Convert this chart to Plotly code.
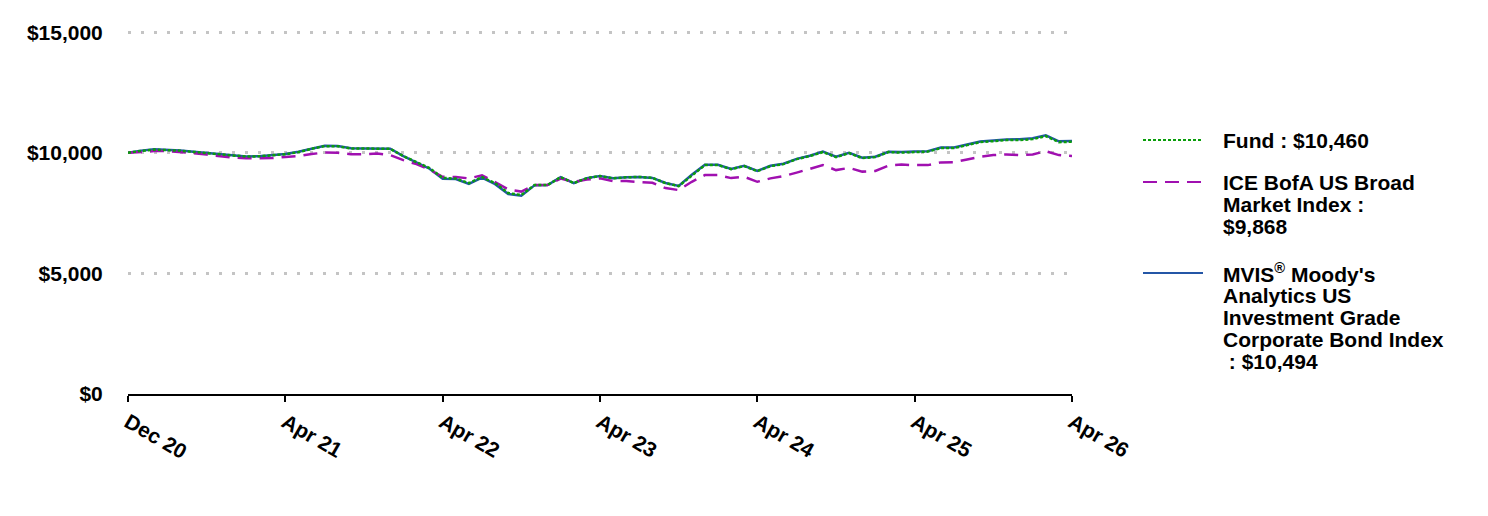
import plotly.graph_objects as go

# ---- data ----
tick_labels = ["Dec 20", "Apr 21", "Apr 22", "Apr 23", "Apr 24", "Apr 25", "Apr 26"]
tick_positions = [0, 12, 24, 36, 48, 60, 72]

fund = [10000, 10082, 10132, 10120, 10087, 10037, 9987, 9921, 9875, 9842, 9854, 9900, 9941,
        10028, 10169, 10277, 10269, 10182, 10174, 10169, 10165, 9863, 9614, 9365, 8960,
        8930, 8744, 8992, 8744, 8329, 8247, 8661, 8661, 8992, 8744, 8951, 9034, 8940, 8985,
        9000, 8960, 8744, 8620, 9075, 9490, 9490, 9324, 9448, 9241, 9448, 9531, 9738, 9863,
        10028, 9821, 9987, 9780, 9821, 10030, 10010, 10040, 10050, 10194, 10194, 10319,
        10443, 10484, 10526, 10526, 10567, 10692, 10443, 10460]

ice = [10000, 10041, 10070, 10070, 10041, 9987, 9925, 9850, 9800, 9772, 9767, 9780, 9830,
       9863, 9946, 10016, 10004, 9937, 9937, 9970, 9904, 9697, 9531, 9303, 9005, 9001,
       8939, 9063, 8785, 8483, 8392, 8661, 8661, 8930, 8798, 8889, 8939, 8827, 8827, 8806,
       8756, 8537, 8454, 8798, 9075, 9075, 8951, 9005, 8798, 8939, 9034, 9179, 9324, 9490,
       9283, 9374, 9220, 9250, 9469, 9511, 9490, 9490, 9602, 9614, 9726, 9834, 9904, 9933,
       9904, 9933, 10070, 9904, 9868]

mvis = [10000, 10090, 10145, 10130, 10095, 10040, 9990, 9925, 9880, 9845, 9860, 9905, 9950,
        10040, 10180, 10290, 10280, 10190, 10180, 10175, 10170, 9860, 9600, 9340, 8920,
        8910, 8710, 8970, 8700, 8290, 8220, 8650, 8660, 8990, 8740, 8950, 9040, 8950, 8990,
        9000, 8960, 8750, 8630, 9090, 9500, 9500, 9330, 9460, 9250, 9460, 9545, 9750, 9880,
        10050, 9840, 10000, 9800, 9840, 10045, 10030, 10055, 10065, 10220, 10225, 10345,
        10470, 10510, 10555, 10560, 10600, 10725, 10475, 10494]

x = list(range(len(fund)))

y_ticks = [0, 5000, 10000, 15000]
y_tick_text = ["$0", "$5,000", "$10,000", "$15,000"]

names = ["Fund : $10,460",
         "ICE BofA US Broad Market Index : $9,868",
         "MVIS® Moody's Analytics US Investment Grade Corporate Bond Index : $10,494"]

GREEN = "#0a9e0a"
PURPLE = "#a010b0"
BLUE = "#2456a6"
FONT = "Liberation Sans, Arial, sans-serif"

fig = go.Figure()
fig.add_trace(go.Scatter(x=x, y=mvis, mode="lines", name=names[2],
                         line=dict(color=BLUE, width=2.5), showlegend=False))
fig.add_trace(go.Scatter(x=x, y=ice, mode="lines", name=names[1],
                         line=dict(color=PURPLE, width=2.5, dash="14px,8px"), showlegend=False))
fig.add_trace(go.Scatter(x=x, y=fund, mode="lines", name=names[0],
                         line=dict(color=GREEN, width=2.5, dash="3px,2px"), showlegend=False))

L, R, T, B = 128, 1072, 31, 394
W, H = 1488, 516
Y_MAX = 15050  # small headroom so the $15,000 gridline is drawn

def px_x(p):
    return (p - L) / (R - L)

def px_y(p):
    return (B - p) / (B - T)

# manual legend (line samples + text lines)
legend_items = [
    (GREEN, "dot", 140, ["Fund : $10,460"]),
    (PURPLE, "dash", 182, ["ICE BofA US Broad", "Market Index :", "$9,868"]),
    (BLUE, "solid", 273, ["MVIS<sup>®</sup> Moody's", "Analytics US", "Investment Grade",
                          "Corporate Bond Index", "&nbsp;: $10,494"]),
]
dash_map = {"dot": "3px,2px", "dash": "14px,8px", "solid": "solid"}
for color, dash, ypix, lines in legend_items:
    fig.add_shape(type="line", xref="paper", yref="paper",
                  x0=px_x(1143), x1=px_x(1203), y0=px_y(ypix), y1=px_y(ypix),
                  line=dict(color=color, width=2, dash=dash_map[dash]))
    for k, txt in enumerate(lines):
        fig.add_annotation(xref="paper", yref="paper", x=px_x(1221), y=px_y(ypix + 22 * k),
                           xanchor="left", yanchor="middle", showarrow=False,
                           text="<b>" + txt + "</b>",
                           font=dict(family=FONT, size=21, color="#000000"))

fig.update_layout(
    width=W, height=H,
    margin=dict(l=L, r=W - R, t=T, b=H - B),
    paper_bgcolor="white", plot_bgcolor="white",
    font=dict(family=FONT, size=21, color="#000000"),
    showlegend=False,
    xaxis=dict(range=[0, 72], tickvals=tick_positions, ticktext=["<b>%s</b>" % t for t in tick_labels],
               tickangle=30, showgrid=False, zeroline=False,
               showline=True, linecolor="#000000", linewidth=2,
               ticks="outside", ticklen=6, tickwidth=2, tickcolor="#000000",
               tickfont=dict(family=FONT, size=21, color="#000000")),
    yaxis=dict(range=[0, Y_MAX], tickvals=y_ticks, ticktext=["<b>%s</b>" % t for t in y_tick_text],
               showgrid=True, gridcolor="#c4c4c4", gridwidth=3, griddash="3px,10px",
               zeroline=False, showline=False,
               ticks="outside", ticklen=20, tickcolor="rgba(0,0,0,0)",
               tickfont=dict(family=FONT, size=21, color="#000000")),
)

fig.write_html("out.html")
